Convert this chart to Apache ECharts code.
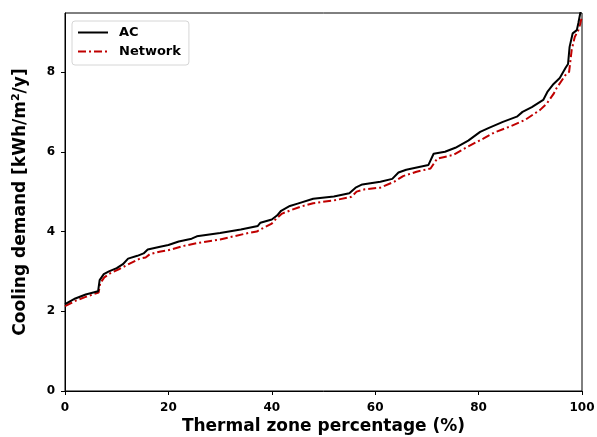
<!DOCTYPE html>
<html>
<head>
<meta charset="utf-8">
<script src="https://cdn.jsdelivr.net/npm/echarts@6/dist/echarts.min.js"></script>
<style>
html,body{margin:0;padding:0;background:#fff;}
#chart{width:597px;height:437px;}
</style>
</head>
<body>
<div id="chart"></div>
<script>
const xTicks = [0, 20, 40, 60, 80, 100];
const yTicks = [0, 2, 4, 6, 8];

const acX = [0, 2, 4, 6.4, 6.7, 7.5, 8.5, 10, 11.2, 12.2, 14, 15.2, 16, 18.4, 20, 22, 24.5, 25.5, 30, 34, 37.3, 37.8, 40, 41, 41.8, 43.5, 45, 48, 52, 55, 56.2, 57.5, 61, 63.3, 64.5, 66, 70.3, 71.3, 73.5, 75.5, 78, 80.3, 82, 84.7, 87.4, 88.5, 90.3, 92.5, 93.3, 94.5, 95.7, 96.8, 97.3, 97.6, 98.2, 99, 99.3, 99.7, 100];
const acY = [2.18, 2.32, 2.42, 2.5, 2.78, 2.93, 3.0, 3.08, 3.18, 3.32, 3.39, 3.45, 3.55, 3.62, 3.66, 3.75, 3.82, 3.88, 3.96, 4.05, 4.14, 4.22, 4.3, 4.4, 4.52, 4.64, 4.7, 4.82, 4.88, 4.96, 5.1, 5.18, 5.25, 5.32, 5.48, 5.55, 5.67, 5.95, 6.0, 6.1, 6.28, 6.5, 6.6, 6.75, 6.88, 7.0, 7.12, 7.3, 7.5, 7.7, 7.85, 8.1, 8.2, 8.63, 8.97, 9.05, 9.23, 9.5, 9.8];

const netX = [0, 2, 4, 6.5, 6.8, 7.6, 8.7, 10.5, 12.6, 14.5, 15.6, 16.4, 18.5, 20.3, 23, 26, 30, 35, 37.1, 38.5, 40, 40.9, 42, 43.8, 45.5, 48, 52, 55.4, 56.4, 58, 61, 63.7, 65.4, 68, 70.7, 72, 75.1, 77.5, 80.9, 83, 86, 89, 91.9, 93.2, 94.5, 95.1, 97, 97.5, 98, 98.6, 99.3, 99.6, 100];
const netY = [2.13, 2.26, 2.36, 2.47, 2.7, 2.85, 2.95, 3.06, 3.2, 3.32, 3.35, 3.43, 3.5, 3.54, 3.64, 3.72, 3.8, 3.95, 4.0, 4.1, 4.2, 4.33, 4.45, 4.54, 4.62, 4.71, 4.78, 4.87, 5.0, 5.06, 5.1, 5.25, 5.39, 5.5, 5.58, 5.83, 5.92, 6.1, 6.33, 6.48, 6.63, 6.8, 7.05, 7.21, 7.45, 7.6, 7.96, 8.0, 8.55, 8.88, 9.05, 9.18, 9.4];

const zip = (xs, ys) => xs.map((x, i) => [x, ys[i]]);
const FONT = 'DejaVu Sans';

const chart = echarts.init(document.getElementById('chart'), null, {renderer: 'canvas'});
chart.setOption({
  animation: false,
  backgroundColor: '#fff',
  textStyle: {fontFamily: FONT},
  grid: {left: 65, right: 15, top: 13, bottom: 46, show: true, borderColor: '#000', borderWidth: 1,
    backgroundColor: 'transparent', containLabel: false, outerBoundsMode: 'none'},
  legend: {
    left: 72, top: 21, orient: 'vertical',
    itemWidth: 30, itemHeight: 14, itemGap: 6,
    padding: [5, 8, 7, 5],
    borderColor: '#d6d6d6', borderWidth: 1, borderRadius: 3,
    itemStyle: {opacity: 0},
    textStyle: {fontFamily: FONT, fontWeight: 'bold', fontSize: 13, color: '#000', padding: [0, 0, 0, 6]},
    data: ['AC', 'Network']
  },
  xAxis: {
    type: 'value', min: 0, max: 100, interval: 20,
    name: 'Thermal zone percentage (%)', nameLocation: 'middle', nameGap: 27, nameMoveOverlap: false,
    nameTextStyle: {fontFamily: FONT, fontWeight: 'bold', fontSize: 17, color: '#000'},
    axisLine: {show: true, lineStyle: {color: '#000', width: 1}},
    axisTick: {show: true, length: 4, lineStyle: {color: '#000'}},
    axisLabel: {fontFamily: FONT, fontWeight: 'bold', fontSize: 12, color: '#000', margin: 11,
      formatter: v => xTicks.includes(v) ? String(v) : ''},
    splitLine: {show: false}
  },
  yAxis: {
    type: 'value', min: 0, max: 9.48, interval: 2,
    name: 'Cooling demand [kWh/m{sup|2}/y]', nameLocation: 'middle', nameGap: 35, nameMoveOverlap: false,
    nameTextStyle: {fontFamily: FONT, fontWeight: 'bold', fontSize: 17, color: '#000',
      rich: {sup: {fontFamily: FONT, fontWeight: 'bold', fontSize: 11, color: '#000', verticalAlign: 'top', padding: [0, 0, 8, 0]}}},
    axisLine: {show: true, lineStyle: {color: '#000', width: 1}},
    axisTick: {show: true, length: 4, lineStyle: {color: '#000'}},
    axisLabel: {fontFamily: FONT, fontWeight: 'bold', fontSize: 12, color: '#000', margin: 10,
      showMaxLabel: false,
      formatter: v => yTicks.includes(v) ? String(v) : ''},
    splitLine: {show: false}
  },
  series: [
    {
      name: 'AC', type: 'line', data: zip(acX, acY), symbol: 'none', smooth: false,
      clip: true,
      lineStyle: {color: '#000', width: 2},
      itemStyle: {color: '#000'},
      z: 3
    },
    {
      name: 'Network', type: 'line', data: zip(netX, netY), symbol: 'none', smooth: false,
      clip: true,
      lineStyle: {color: '#c00000', width: 2, type: [8, 3, 2, 3]},
      itemStyle: {color: '#c00000'},
      z: 2
    }
  ]
});
</script>
</body>
</html>
